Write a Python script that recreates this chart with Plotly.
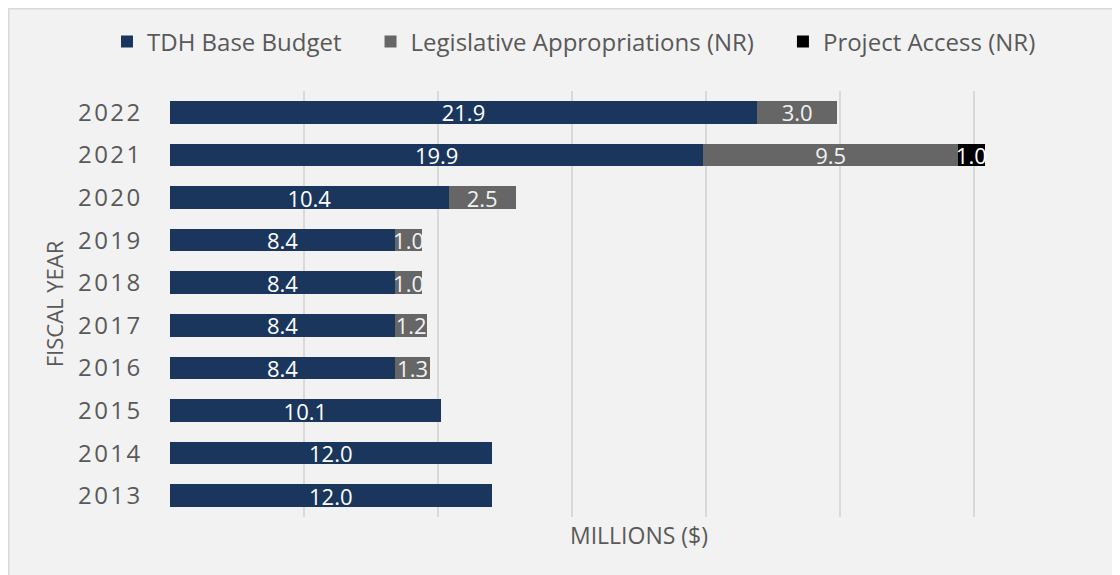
import plotly.graph_objects as go

years = ["2013", "2014", "2015", "2016", "2017", "2018", "2019", "2020", "2021", "2022"]
base_budget = [12.0, 12.0, 10.1, 8.4, 8.4, 8.4, 8.4, 10.4, 19.9, 21.9]
legislative = [None, None, None, 1.3, 1.2, 1.0, 1.0, 2.5, 9.5, 3.0]
project_access = [None, None, None, None, None, None, None, None, 1.0, None]
tick_labels = ["\u200a".join(y) for y in years]

PAD = "\u2003"
series = [
    ("TDH Base Budget" + PAD, base_budget, "#1b365d", "#ffffff"),
    ("Legislative Appropriations (NR)" + PAD, legislative, "#666666", "#f2f2f2"),
    ("Project Access (NR)", project_access, "#000000", "#ffffff"),
]

fig = go.Figure()
for name, vals, color, tcolor in series:
    fig.add_trace(go.Bar(
        y=years, x=vals, name=name, orientation="h",
        marker=dict(color=color, line=dict(width=0)),
        text=[f"{v:.1f}" if v is not None else "" for v in vals],
        textposition="inside", insidetextanchor="middle", textangle=0,
        textfont=dict(family="Open Sans", size=22, color=tcolor),
        cliponaxis=False,
    ))

# page has an 8px body margin, so figure coords = page coords - 8
W, H = 1112, 567
L, R, T, B = 162, 12, 83, 58
pw, ph = W - L - R, H - T - B

def px_x(p):
    return (p - L) / pw

def px_y(p):
    return (H - B - p) / ph

fig.update_layout(
    width=W, height=H,
    barmode="stack", bargap=0.47,
    margin=dict(l=L, r=R, t=T, b=B, autoexpand=False),
    paper_bgcolor="#f2f2f2", plot_bgcolor="rgba(0,0,0,0)",
    font=dict(family="Open Sans", color="#595959"),
    uniformtext=dict(minsize=22, mode="show"),
    showlegend=True,
    legend=dict(orientation="h", xref="container", yref="container",
                x=566 / W, xanchor="center", y=1 - 34 / H, yanchor="middle",
                font=dict(size=24, color="#595959"), bgcolor="rgba(0,0,0,0)", traceorder="normal",
                itemwidth=30),
    shapes=[dict(type="path", xref="paper", yref="paper",
                 path=f"M {px_x(0.5)},{px_y(H)} L {px_x(0.5)},{px_y(0.5)} L {px_x(W)},{px_y(0.5)}",
                 line=dict(color="#d9d9d9", width=2), layer="below")],
    xaxis=dict(range=[0, 35], dtick=5, showticklabels=False, showgrid=True,
               gridcolor="#d9d9d9", gridwidth=1.5, zeroline=False, showline=False,
               title=dict(text="MILLIONS ($)", font=dict(size=23, color="#595959"), standoff=10)),
    yaxis=dict(type="category", categoryorder="array", categoryarray=years,
               tickvals=years, ticktext=tick_labels,
               tickfont=dict(size=24, color="#595959"),
               ticks="outside", ticklen=24, tickcolor="rgba(0,0,0,0)",
               showgrid=False, zeroline=False, showline=False,
               title=dict(text="FISCAL YEAR", font=dict(size=22, color="#595959"), standoff=8)),
)

fig.write_html("out.html")
